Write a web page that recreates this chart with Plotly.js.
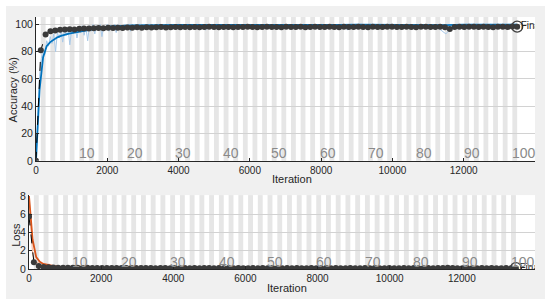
<!DOCTYPE html>
<html>
<head>
<meta charset="utf-8">
<script src="https://cdn.plot.ly/plotly-3.0.1.min.js"></script>
<style>
    html, body { margin: 0; padding: 0; background: #ffffff; }
    #chart { position: absolute; left: 6px; top: 6px; width: 539px; height: 293px; }
</style>
</head>
<body>
<div id="chart"></div>
<script>
const ITERS_PER_EPOCH = 135;
const EPOCH_COUNT = 100;
const EPOCH_LABELS = [10, 20, 30, 40, 50, 60, 70, 80, 90, 100];

// raw training values: every 50 iterations up to 3000, then every 250
const rawIterEarly = range(0, 3000, 50);
const rawIterLate = range(3250, 13500, 250);

const rawAccEarly = [
    0, 30, 62, 75, 82, 78, 88, 84, 91, 86,
    93, 80, 94, 90, 95, 87, 96, 92, 97, 85,
    96, 93, 98, 90, 97, 94, 99, 92, 98, 88,
    99, 95, 100, 93, 99, 96, 100, 91, 99, 96,
    100, 95, 99, 97, 100, 94, 100, 97, 99, 96,
    100, 98, 100, 95, 100, 98, 100, 97, 100, 98,
    100,
];
const rawAccLate = [
    99, 100, 97, 100, 99, 100, 96, 100, 99, 100,
    98, 100, 99, 100, 98, 100, 97, 100, 99, 100,
    99, 100, 96, 100, 99, 100, 98, 100, 97, 100,
    99, 100, 98, 93, 100, 99, 100, 98, 100, 99,
    100, 100,
];

const rawLossEarly = [
    8.0, 4.6, 1.6, 0.95, 0.62, 0.75, 0.45, 0.55, 0.36, 0.48,
    0.30, 0.58, 0.26, 0.38, 0.22, 0.42, 0.18, 0.30, 0.16, 0.44,
    0.15, 0.25, 0.10, 0.33, 0.12, 0.22, 0.08, 0.28, 0.10, 0.36,
    0.07, 0.18, 0.05, 0.24, 0.07, 0.14, 0.04, 0.27, 0.06, 0.13,
    0.04, 0.16, 0.06, 0.10, 0.04, 0.20, 0.05, 0.09, 0.06, 0.12,
    0.04, 0.09, 0.04, 0.15, 0.03, 0.07, 0.04, 0.10, 0.03, 0.06,
    0.04,
];
const rawLossLate = [
    0.05, 0.03, 0.09, 0.04, 0.05, 0.03, 0.11, 0.03, 0.05, 0.04,
    0.08, 0.03, 0.04, 0.03, 0.05, 0.03, 0.07, 0.03, 0.04, 0.03,
    0.05, 0.03, 0.10, 0.03, 0.04, 0.03, 0.05, 0.03, 0.07, 0.03,
    0.04, 0.03, 0.05, 0.18, 0.03, 0.05, 0.03, 0.04, 0.03, 0.04,
    0.03, 0.03,
];

// smoothed training values: every 100 iterations up to 3000, then every 500
const smoothIterEarly = range(0, 3000, 100);
const smoothIterLate = range(3500, 13500, 500);

const smoothAccEarly = [
    0, 52, 76, 84, 87, 89, 90.5, 91.5, 92.5, 93,
    93.5, 94, 94.8, 95.3, 95.8, 96.3, 96.8, 97.2, 97.6, 98,
    98.3, 98.5, 98.7, 98.8, 99, 99.1, 99.2, 99.3, 99.3, 99.4,
    99.4,
];
const smoothAccLate = [
    99.5, 99.6, 99.5, 99.7, 99.6, 99.7, 99.7, 99.6, 99.7, 99.6,
    99.7, 99.8, 99.7, 99.6, 99.8, 99.7, 99.5, 99.8, 99.7, 99.8,
    99.8,
];

const smoothLossEarly = [
    8, 3.2, 1.3, 0.8, 0.55, 0.45, 0.38, 0.32, 0.27, 0.24,
    0.22, 0.2, 0.17, 0.16, 0.14, 0.13, 0.12, 0.11, 0.1, 0.1,
    0.09, 0.09, 0.08, 0.08, 0.07, 0.07, 0.07, 0.06, 0.06, 0.06,
    0.06,
];
const smoothLossLate = [
    0.05, 0.05, 0.06, 0.05, 0.05, 0.04, 0.05, 0.05, 0.04, 0.05,
    0.04, 0.05, 0.04, 0.04, 0.05, 0.04, 0.06, 0.04, 0.04, 0.04,
    0.04,
];

// validation values, one per epoch (epoch 0..100)
const valAcc = [
    0, 81, 92.5, 95, 95.5, 96, 96.2, 96.5, 96.3, 96.8,
    97, 96.9, 97.2, 97.3, 97.1, 97.5, 97.4, 97.6, 97.3, 97.7,
    97.5, 97.8, 97.6, 97.9, 97.7, 97.8, 98, 97.7, 97.9, 98.1,
    97.8, 98, 97.9, 98.1, 97.9, 98, 98.2, 98, 97.9, 98.1,
    98, 97.8, 98.1, 98, 98.2, 98, 97.9, 98.1, 98.2, 98,
    98.1, 97.9, 98.2, 98, 98.1, 98.2, 97.9, 98, 98.2, 98.1,
    98, 98.2, 98.1, 97.9, 98.2, 98, 98.1, 98.3, 98, 97.9,
    98.2, 98.1, 98, 98.2, 98.3, 98.1, 98, 98.2, 98.1, 97.9,
    98.2, 98.3, 98.1, 98, 98.2, 97.8, 96.6, 98, 98.2, 98.1,
    98.3, 98.2, 98, 98.3, 98.1, 97.8, 98.2, 98.3, 98.1, 98.4,
    98.3,
];
const valLoss = [
    5.75, 0.75, 0.32, 0.22, 0.18, 0.16, 0.15, 0.14, 0.15, 0.13,
    0.13, 0.12, 0.13, 0.12, 0.11, 0.12, 0.11, 0.12, 0.11, 0.10,
    0.11, 0.10, 0.11, 0.10, 0.11, 0.10, 0.09, 0.10, 0.11, 0.09,
    0.10, 0.09, 0.10, 0.09, 0.10, 0.09, 0.10, 0.11, 0.09, 0.10,
    0.09, 0.10, 0.09, 0.10, 0.09, 0.09, 0.10, 0.09, 0.10, 0.09,
    0.10, 0.09, 0.09, 0.10, 0.09, 0.10, 0.09, 0.09, 0.10, 0.09,
    0.09, 0.10, 0.09, 0.10, 0.09, 0.09, 0.10, 0.09, 0.09, 0.10,
    0.09, 0.10, 0.09, 0.09, 0.10, 0.09, 0.09, 0.10, 0.09, 0.10,
    0.09, 0.09, 0.10, 0.09, 0.10, 0.11, 0.14, 0.10, 0.09, 0.09,
    0.10, 0.09, 0.09, 0.10, 0.09, 0.10, 0.09, 0.09, 0.10, 0.09,
    0.09,
];

function range(start, stop, step) {
    const values = [];
    for (let v = start; v <= stop; v += step) {
        values.push(v);
    }
    return values;
}

const valIter = valAcc.map((_, epoch) => epoch * ITERS_PER_EPOCH);
const finalIter = EPOCH_COUNT * ITERS_PER_EPOCH;

const FONT = 'Liberation Sans, Arial, sans-serif';
const TEXT_COLOR = '#262626';

function trainingTraces(xaxis, yaxis, rawY, smoothY, valY, rawColor, smoothColor) {
    const finalValue = valY[valY.length - 1];
    return [
        {
            x: rawIterEarly.concat(rawIterLate),
            y: rawY,
            xaxis, yaxis,
            type: 'scatter',
            mode: 'lines',
            line: { color: rawColor, width: 1 },
        },
        {
            x: smoothIterEarly.concat(smoothIterLate),
            y: smoothY,
            xaxis, yaxis,
            type: 'scatter',
            mode: 'lines',
            line: { color: smoothColor, width: 1.8 },
        },
        {
            x: valIter,
            y: valY,
            xaxis, yaxis,
            type: 'scatter',
            mode: 'lines+markers',
            line: { color: '#000000', width: 1, dash: 'dash' },
            marker: { color: '#3a3a3a', size: 6 },
        },
        {
            x: [finalIter],
            y: [finalValue],
            xaxis, yaxis,
            type: 'scatter',
            mode: 'markers',
            marker: { color: 'rgba(0,0,0,0)', size: 11, line: { color: '#404040', width: 1.3 } },
        },
        {
            x: [finalIter + 100],
            y: [finalValue],
            xaxis, yaxis,
            type: 'scatter',
            mode: 'text',
            text: ['Final'],
            textposition: 'middle right',
            textfont: { family: FONT, size: 10, color: TEXT_COLOR },
            cliponaxis: true,
        },
    ];
}

const data = [
    ...trainingTraces('x', 'y', rawAccEarly.concat(rawAccLate), smoothAccEarly.concat(smoothAccLate),
        valAcc, '#a9c9e8', '#0072bd'),
    ...trainingTraces('x2', 'y2', rawLossEarly.concat(rawLossLate), smoothLossEarly.concat(smoothLossLate),
        valLoss, '#f2b49a', '#d95319'),
];

// alternating epoch shading
const shapes = [];
for (let epoch = 2; epoch <= EPOCH_COUNT; epoch += 2) {
    [['x', 'y domain'], ['x2', 'y2 domain']].forEach(([xref, yref]) => {
        shapes.push({
            type: 'rect',
            xref, yref,
            x0: (epoch - 1) * ITERS_PER_EPOCH,
            x1: epoch * ITERS_PER_EPOCH,
            y0: 0, y1: 1,
            fillcolor: '#e6e6e6',
            line: { width: 0 },
            layer: 'below',
        });
    });
}

const annotations = [];
EPOCH_LABELS.forEach((epoch) => {
    [['x', 'y', 5.6], ['x2', 'y2', 0.8]].forEach(([xref, yref, y]) => {
        annotations.push({
            x: epoch * ITERS_PER_EPOCH - 200,
            y,
            xref, yref,
            xanchor: 'left',
            yanchor: 'middle',
            text: String(epoch),
            showarrow: false,
            font: { family: FONT, size: 14, color: '#8a8a8a' },
        });
    });
});

const titleFont = { family: FONT, size: 11, color: TEXT_COLOR };
const titleBase = { xref: 'paper', yref: 'paper', xanchor: 'center', yanchor: 'middle', showarrow: false, font: titleFont };
annotations.push(
    { ...titleBase, text: 'Accuracy (%)', x: -0.031, y: 0.71, textangle: -90 },
    { ...titleBase, text: 'Loss', x: -0.026, y: 0.135, textangle: -90 },
    { ...titleBase, text: 'Iteration', x: 0.52, y: 0.356 },
    { ...titleBase, text: 'Iteration', x: 0.51, y: -0.077 },
);

const commonX = {
    showline: true,
    linecolor: '#262626',
    linewidth: 1,
    ticks: 'inside',
    ticklen: 3,
    tickcolor: '#262626',
    tickvals: [0, 2000, 4000, 6000, 8000, 10000, 12000],
    ticktext: ['0', '2000', '4000', '6000', '8000', '10000', '12000'],
    tickfont: { family: FONT, size: 10, color: TEXT_COLOR },
    showgrid: false,
    zeroline: false,
};
const commonY = {
    showline: true,
    linecolor: '#262626',
    linewidth: 1,
    ticks: 'inside',
    ticklen: 3,
    tickcolor: '#262626',
    tickfont: { family: FONT, size: 10.5, color: TEXT_COLOR },
    showgrid: true,
    gridcolor: '#d2d2d2',
    zeroline: false,
};

const layout = {
    width: 539,
    height: 293,
    margin: { l: 23, r: 10, t: 10.7, b: 30 },
    paper_bgcolor: '#f0f0f0',
    plot_bgcolor: '#ffffff',
    showlegend: false,
    xaxis: { ...commonX, domain: [0.0138, 1], range: [0, 14000], anchor: 'y' },
    yaxis: { ...commonY, domain: [0.4292, 1], range: [0, 105.4], tickvals: [0, 20, 40, 60, 80, 100], anchor: 'x' },
    xaxis2: { ...commonX, domain: [0, 1], range: [0, 14030], anchor: 'y2' },
    yaxis2: { ...commonY, domain: [0, 0.2933], range: [0, 8.1], tickvals: [0, 2, 4, 6, 8], anchor: 'x2' },
    shapes,
    annotations,
    font: { family: FONT },
};

Plotly.newPlot('chart', data, layout, { displayModeBar: false, staticPlot: true });
</script>
</body>
</html>
